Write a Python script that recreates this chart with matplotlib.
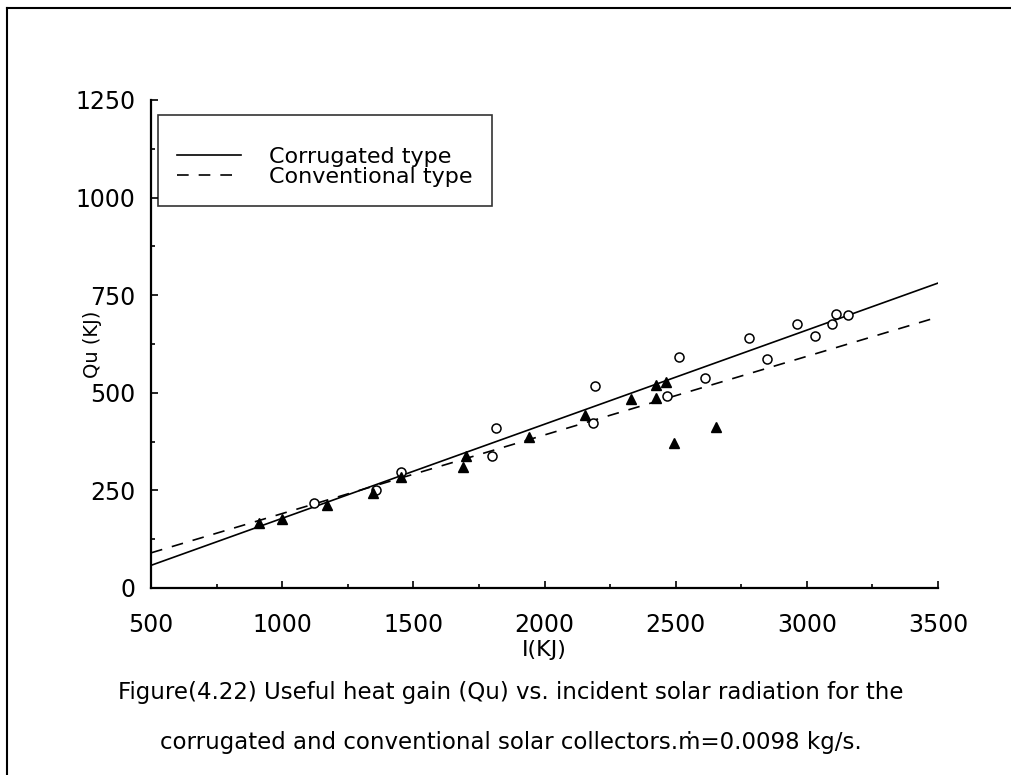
import matplotlib
matplotlib.use('Agg')
import matplotlib.pyplot as plt
from matplotlib.lines import Line2D
from matplotlib.ticker import MultipleLocator

corr_I = [1121, 1357, 1452, 1798, 1814, 2185, 2191, 2468, 2513, 2613,
          2778, 2849, 2961, 3030, 3097, 3112, 3156]
corr_Qu = [217, 252, 298, 338, 411, 422, 518, 493, 591, 537,
           640, 586, 676, 646, 676, 702, 699]

conv_I = [913, 998, 1172, 1347, 1452, 1690, 1700, 1941, 2153, 2331,
          2424, 2426, 2464, 2494, 2655]
conv_Qu = [166, 176, 213, 243, 284, 309, 338, 388, 443, 483,
           486, 520, 528, 372, 412]

# fitted lines
fit_I = [500, 3500]
corr_fit = [58, 781]
conv_fit = [90, 694]

plt.rcParams['font.family'] = ['DejaVu Sans']

fig = plt.figure(figsize=(10.11, 7.75), dpi=100)
ax = fig.add_axes([0.1494, 0.2413, 0.7784, 0.6297])

ax.plot(fit_I, corr_fit, color='black', lw=1.2, label='Corrugated type')
ax.plot(fit_I, conv_fit, color='black', lw=1.2, dashes=(7, 6), label='Conventional type')
ax.plot(corr_I, corr_Qu, 'o', mfc='white', mec='black', ms=6.5, mew=1.1)
ax.plot(conv_I, conv_Qu, '^', color='black', ms=6.5)

ax.set_xlim(500, 3500)
ax.set_ylim(0, 1250)
ax.xaxis.set_major_locator(MultipleLocator(500))
ax.xaxis.set_minor_locator(MultipleLocator(250))
ax.yaxis.set_major_locator(MultipleLocator(250))
ax.yaxis.set_minor_locator(MultipleLocator(125))
ax.tick_params(which='both', direction='in', labelsize=17, width=1.2)
ax.tick_params(which='major', length=5)
ax.tick_params(which='minor', length=3)
ax.tick_params(axis='x', pad=18)
ax.tick_params(axis='y', pad=11)
for s in ['top', 'right']:
    ax.spines[s].set_visible(False)
for s in ['left', 'bottom']:
    ax.spines[s].set_linewidth(1.6)

ax.set_ylabel('Qu (KJ)', fontsize=14)
ax.yaxis.set_label_coords(-0.062, 0.5)
ax.set_xlabel('I(KJ)', fontsize=16)
ax.xaxis.set_label_coords(0.5, -0.107)

leg = ax.legend(loc='upper left', bbox_to_anchor=(0.009, 0.969), borderaxespad=0,
                fontsize=16, frameon=True, fancybox=False, handlelength=2.9,
                handletextpad=1.25, labelspacing=0.0, borderpad=0.85,
                title=' ', title_fontsize=9)
leg.get_frame().set_edgecolor('black')
leg.get_frame().set_linewidth(1.2)

fig.text(0.505, 1 - 693 / 775, 'Figure(4.22) Useful heat gain (Qu) vs. incident solar radiation for the',
         ha='center', va='center', fontsize=16.5)
fig.text(0.505, 1 - 742 / 775, 'corrugated and conventional solar collectors.ṁ=0.0098 kg/s.',
         ha='center', va='center', fontsize=16.5)

# page frame from the scan
fig.add_artist(Line2D([7 / 1011, 7 / 1011], [0, 1 - 8 / 775], color='black', lw=1.5))
fig.add_artist(Line2D([7 / 1011, 1], [1 - 8 / 775, 1 - 8 / 775], color='black', lw=1.5))

fig.savefig('out.png', dpi=100)
